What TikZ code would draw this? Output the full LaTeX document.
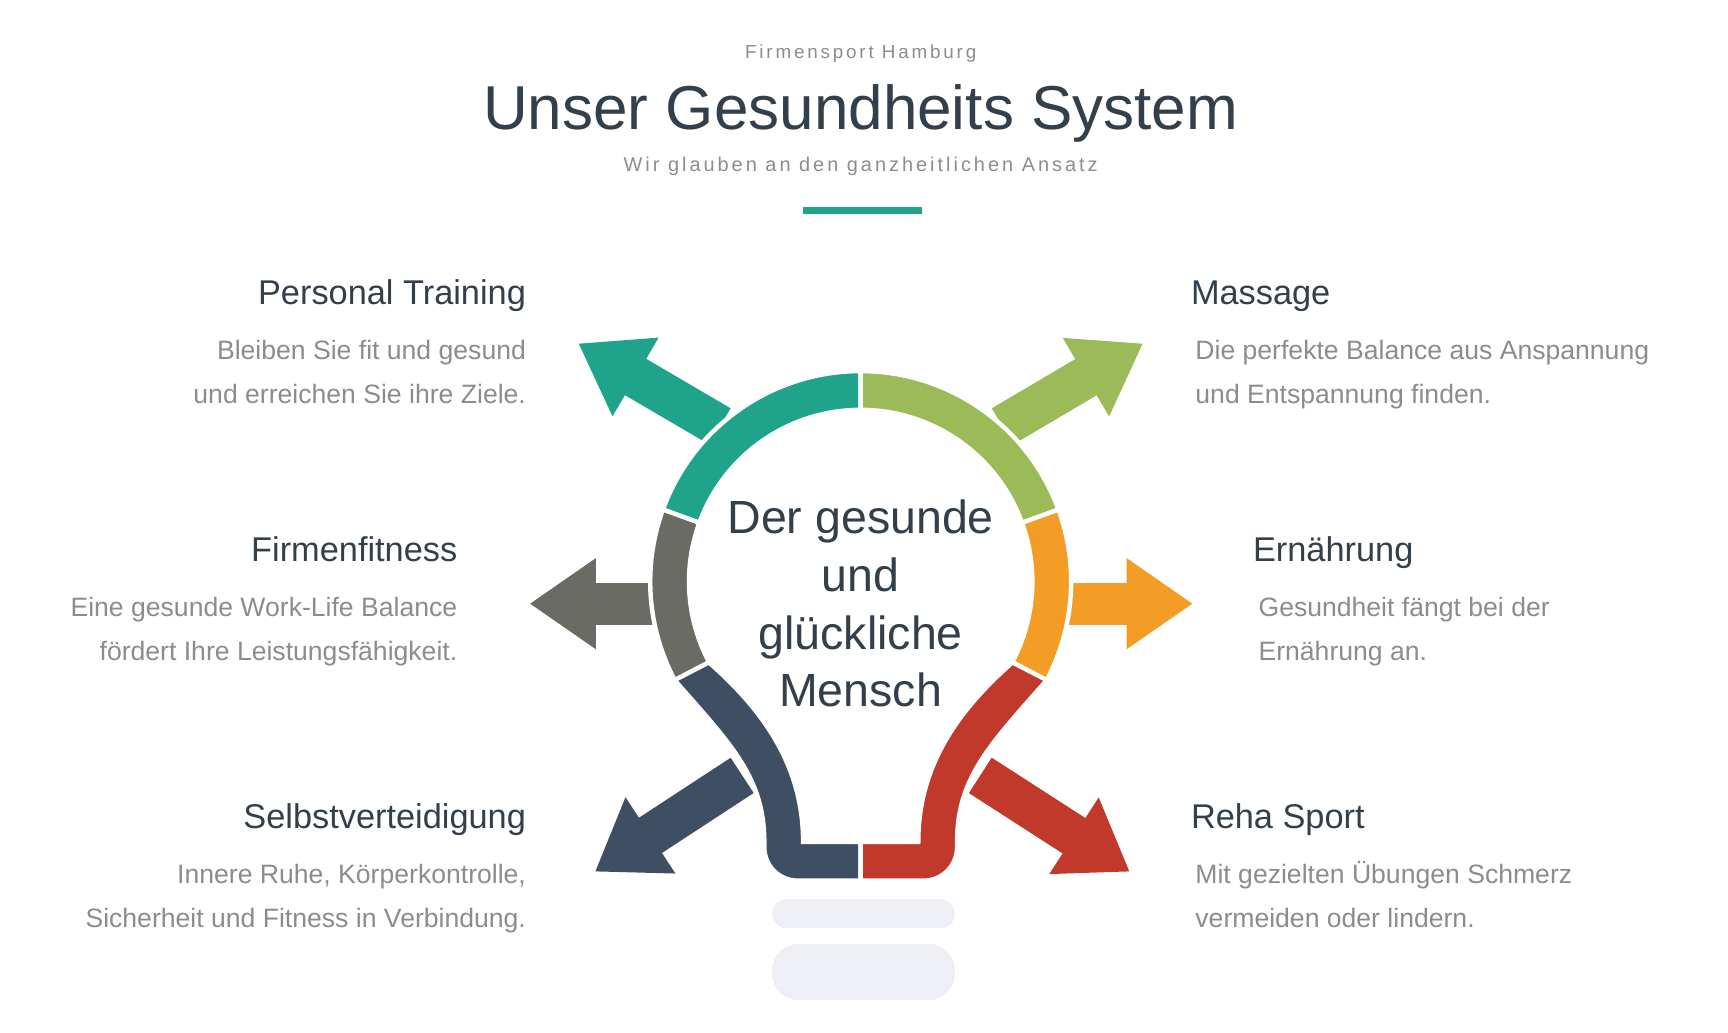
\documentclass[tikz,border=0pt]{standalone}
\usepackage{fontspec}
\setmainfont{Liberation Sans}
\usetikzlibrary{arrows.meta,calc}
\definecolor{cteal}{HTML}{1FA38A}
\definecolor{cgreen}{HTML}{9BBB59}
\definecolor{corange}{HTML}{F39C26}
\definecolor{cgray}{HTML}{6B6B66}
\definecolor{cnavy}{HTML}{3F4F63}
\definecolor{cred}{HTML}{C0392B}
\definecolor{cdark}{HTML}{333F4A}
\definecolor{ctext}{HTML}{8C8C8C}
\definecolor{cbase}{HTML}{EEEEF5}
\tikzset{
  heading/.style={text=cdark, font=\fontsize{31}{36}\selectfont, inner sep=0pt},
  desc/.style={text=ctext, font=\fontsize{24}{39}\selectfont, inner sep=0pt},
  bigarrow/.style={line width=38pt, -{Triangle[width=78pt,length=60pt]}},
  ringpart/.style={draw=white, line width=4pt}
}
\begin{document}
\begin{tikzpicture}[x=1pt,y=1pt]
        \useasboundingbox (0,0) rectangle (1560,932);

        % Header
        \node[text=ctext, font=\fontsize{17}{20}\selectfont\addfontfeatures{LetterSpace=15}] (top) at (777,884) {Firmensport Hamburg};
        \node[text=cdark, font=\fontsize{56}{60}\selectfont] (title) at (777,830) {Unser Gesundheits System};
        \node[text=ctext, font=\fontsize{18}{20}\selectfont\addfontfeatures{LetterSpace=15}] (sub) at (777,782) {Wir glauben an den ganzheitlichen Ansatz};
        \fill[cteal] (725,739) rectangle (832,745);

        % Arrows
        \coordinate (c) at (777,407);
        \draw[bigarrow, cteal] (650,547) -- (522,622);
        \draw[bigarrow, cgreen] (905,547) -- (1032,622);
        \draw[bigarrow, cgray] (590,387) -- (478,387);
        \draw[bigarrow, corange] (965,387) -- (1077,387);
        \draw[bigarrow, cnavy] (670,232) -- (537,145);
        \draw[bigarrow, cred] (885,232) -- (1020,145);

        % Ring segments
        \foreach \a/\b/\col in {90/160/cteal, 20/90/cgreen, 160/208/cgray, -28/20/corange} {
            \filldraw[ringpart, fill=\col] (c) ++(\a:190) arc[start angle=\a, end angle=\b, radius=190]
                -- ($(c)+(\b:155)$) arc[start angle=\b, end angle=\a, radius=155] -- cycle;
        }
        \filldraw[ringpart, fill=cnavy] (609,318) .. controls (660,260) and (690,230) .. (690,172)
            [rounded corners=30] -- (690,137) [sharp corners] -- (777,137) -- (777,172) -- (725,172)
            .. controls (725,240) and (690,290) .. (640,334) -- cycle;
        \filldraw[ringpart, fill=cred] (945,318) .. controls (894,260) and (864,230) .. (864,172)
            [rounded corners=30] -- (864,137) [sharp corners] -- (777,137) -- (777,172) -- (829,172)
            .. controls (829,240) and (864,290) .. (914,334) -- cycle;

        % Bulb base
        \fill[cbase, rounded corners=13] (697,94) rectangle (862,120);
        \fill[cbase, rounded corners=24] (697,29) rectangle (862,80);

        % Centre text
        \node[text=cdark, align=center, font=\fontsize{42}{52}\selectfont] (centre) at (777,387)
            {Der gesunde\\und\\glückliche\\Mensch};

        % Left labels
        \node[heading, anchor=base east] (pt) at (475,657) {Personal Training};
        \node[desc, anchor=base east, align=right] (ptd) at (475,568) {Bleiben Sie fit und gesund\\und erreichen Sie ihre Ziele.};
        \node[heading, anchor=base east] (ff) at (413,425) {Firmenfitness};
        \node[desc, anchor=base east, align=right] (ffd) at (413,336) {Eine gesunde Work-Life Balance\\fördert Ihre Leistungsfähigkeit.};
        \node[heading, anchor=base east] (sv) at (475,184) {Selbstverteidigung};
        \node[desc, anchor=base east, align=right] (svd) at (475,95) {Innere Ruhe, Körperkontrolle,\\Sicherheit und Fitness in Verbindung.};

        % Right labels
        \node[heading, anchor=base west] (ms) at (1075,657) {Massage};
        \node[desc, anchor=base west, align=left] (msd) at (1079,568) {Die perfekte Balance aus Anspannung\\und Entspannung finden.};
        \node[heading, anchor=base west] (er) at (1131,425) {Ernährung};
        \node[desc, anchor=base west, align=left] (erd) at (1136,336) {Gesundheit fängt bei der\\Ernährung an.};
        \node[heading, anchor=base west] (rs) at (1075,184) {Reha Sport};
        \node[desc, anchor=base west, align=left] (rsd) at (1079,95) {Mit gezielten Übungen Schmerz\\vermeiden oder lindern.};

\end{tikzpicture}
\end{document}
